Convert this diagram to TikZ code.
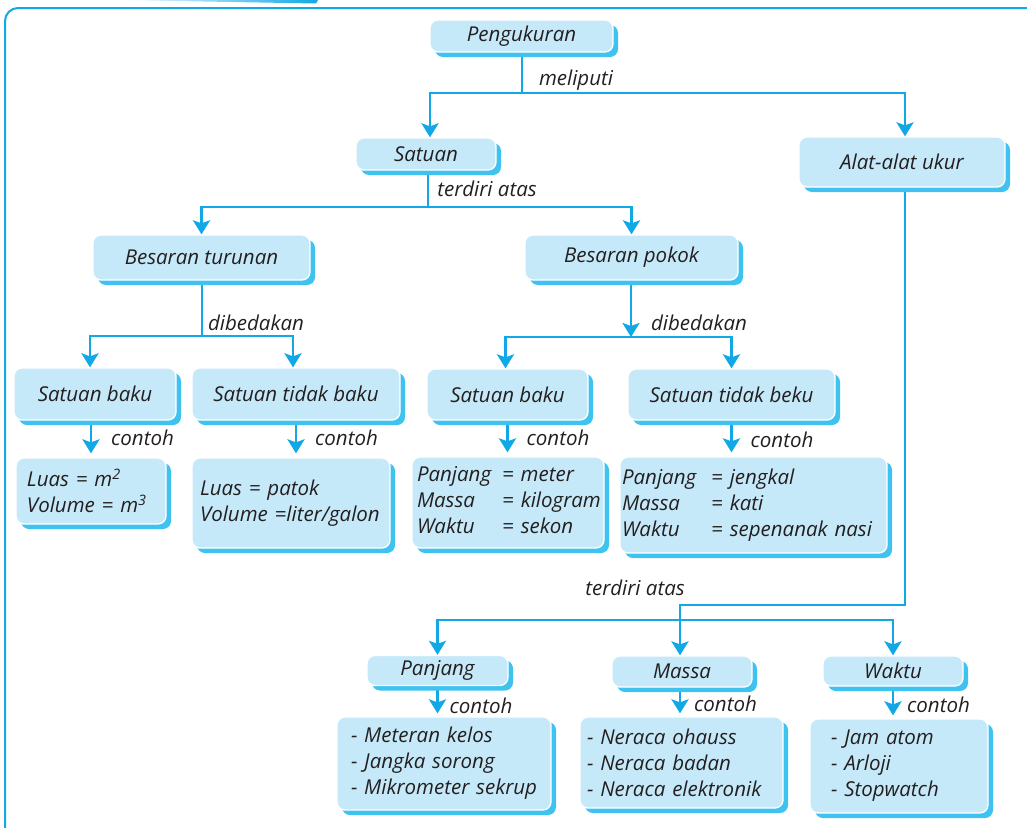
\documentclass[tikz,border=0pt]{standalone}
\usepackage{fontspec}
\setmainfont{Open Sans}
\usetikzlibrary{arrows.meta,shadows}
\definecolor{boxfill}{HTML}{C6E9F9}
\definecolor{shadowblue}{HTML}{3EC3F1}
\definecolor{linecol}{HTML}{12A8E6}
\definecolor{txt}{HTML}{231F20}
\pgfdeclarelayer{bg}
\pgfsetlayers{bg,main}
\begin{document}
\begin{tikzpicture}[x=1pt,y=-1pt,
  font=\fontsize{20.5}{26}\selectfont\itshape, text=txt,
  box/.style={fill=boxfill, draw=white, line width=1.3pt, rounded corners=8pt,
    inner sep=0pt, align=center,
    general shadow={fill=shadowblue, shadow xshift=5pt, shadow yshift=-5pt}},
  lbox/.style={box, align=left},
  conn/.style={draw=linecol, line width=2.8pt},
  arr/.style={conn, -{Stealth[length=14pt,width=17pt,inset=3pt]}},
  lbl/.style={inner sep=0pt}]
\useasboundingbox (0,0) rectangle (1027,827);
% frame
\draw[linecol, line width=2pt, rounded corners=13pt] (5,840) -- (5,8) -- (1040,8);
\shade[left color=white, right color=linecol] (118,0) -- (318,0) -- (316,3.5) -- cycle;

% top levels
\node[box, minimum width=183pt, minimum height=32pt] (peng) at (521.5,36) {Pengukuran};
\node[box, minimum width=140pt, minimum height=32pt] (sat) at (426,154) {Satuan};
\node[box, minimum width=206pt, minimum height=50pt] (alat) at (902,162) {Alat-alat ukur};
\node[box, minimum width=217pt, minimum height=45pt] (btur) at (201.5,257.5) {Besaran turunan};
\node[box, minimum width=213pt, minimum height=45pt] (bpok) at (631.5,257.5) {Besaran pokok};
\node[box, minimum width=162pt, minimum height=52pt] (sb1) at (95,394) {Satuan baku};
\node[box, minimum width=208pt, minimum height=52pt] (stb1) at (296,394) {Satuan tidak baku};
\node[box, minimum width=161pt, minimum height=51pt] (sb2) at (507.5,394.5) {Satuan baku};
\node[box, minimum width=207pt, minimum height=51pt] (stb2) at (731.5,394.5) {Satuan tidak beku};

% examples
\node[lbox, inner xsep=11pt, text width=128pt, minimum height=66pt] (ex1) at (91,491)
  {Luas = m\textsuperscript{2}\\Volume = m\textsuperscript{3}};
\node[lbox, inner xsep=8pt, text width=182pt, minimum height=90pt] (ex2) at (291,503)
  {Luas = patok\\Volume =liter/galon};
\node[lbox, inner xsep=5pt, text width=182pt, minimum height=91pt] (ex3) at (508,502.5)
  {\begin{tabular}{@{}l@{\hspace{11pt}}l@{}}Panjang & = meter\\Massa & = kilogram\\Waktu & = sekon\end{tabular}};
\node[lbox, inner xsep=2pt, text width=263pt, minimum height=96pt] (ex4) at (753.5,505)
  {\begin{tabular}{@{}l@{\hspace{15pt}}l@{}}Panjang & = jengkal\\Massa & = kati\\Waktu & = sepenanak nasi\end{tabular}};

% instruments
\node[box, minimum width=141pt, minimum height=30pt] (pj) at (437.5,670.5) {Panjang};
\node[box, minimum width=140pt, minimum height=31pt] (ms) at (682,671.5) {Massa};
\node[box, minimum width=140pt, minimum height=30pt] (wk) at (893,671) {Waktu};
\node[lbox, inner xsep=7pt, text width=200pt, minimum height=93pt] (pjl) at (444,763.5)
  {\hspace*{7pt}\mbox{- Meteran kelos}\\\hspace*{7pt}\mbox{- Jangka sorong}\\\hspace*{7pt}\mbox{- Mikrometer sekrup}};
\node[lbox, inner xsep=7pt, text width=189pt, minimum height=91pt] (msl) at (681.5,762.5)
  {\mbox{- Neraca ohauss}\\\mbox{- Neraca badan}\\\mbox{- Neraca elektronik}};
\node[lbox, inner xsep=21pt, text width=136pt, minimum height=94pt] (wkl) at (899,766)
  {- Jam atom\\- Arloji\\- Stopwatch};

% labels
\node[lbl] (lmel) at (576,80) {meliputi};
\node[lbl] (lter1) at (487,189) {terdiri atas};
\node[lbl] (ldib1) at (256,323) {dibedakan};
\node[lbl] (ldib2) at (699,323) {dibedakan};
\node[lbl] (lc1) at (142.5,438) {contoh};
\node[lbl] (lc2) at (346.5,438) {contoh};
\node[lbl] (lc3) at (558,438) {contoh};
\node[lbl] (lc4) at (782,440) {contoh};
\node[lbl] (lter2) at (635,588) {terdiri atas};
\node[lbl] (lc5) at (481,706) {contoh};
\node[lbl] (lc6) at (725.5,704) {contoh};
\node[lbl] (lc7) at (938.5,705) {contoh};

% connectors
\begin{pgfonlayer}{bg}
\coordinate (j1) at (522,93);
\draw[conn] (peng.south -| j1) -- (j1);
\draw[arr] (j1) -| ([xshift=4pt]sat.north);
\draw[arr] (j1) -| ([xshift=3pt]alat.north);
\coordinate (j2) at (428,207);
\draw[conn] (sat.south -| j2) -- (j2);
\draw[arr] (j2) -| (btur.north);
\draw[arr] (j2) -| (bpok.north);
\coordinate (j3) at (202,336);
\draw[conn] (btur.south -| j3) -- (j3);
\draw[arr] (j3) -| ([xshift=-5pt]sb1.north);
\draw[arr] (j3) -| ([xshift=-3pt]stb1.north);
\coordinate (j4) at (631,337);
\draw[arr] (bpok.south -| j4) -- (j4);
\draw[arr] (j4) -| ([xshift=-2pt]sb2.north);
\draw[arr] (j4) -| (stb2.north);
\draw[arr, shorten >=4pt] (ex1.north |- sb1.south) -- (ex1.north);
\draw[arr, shorten >=4pt] (stb1.south) -- (stb1.south |- ex2.north);
\draw[arr, shorten >=4pt] (sb2.south) -- (sb2.south |- ex3.north);
\draw[arr, shorten >=4pt] (stb2.south) -- (stb2.south |- ex4.north);
\coordinate (j5) at (905,605);
\coordinate (j6) at (680,620);
\draw[conn] (alat.south -| j5) -- (j5) -- (j5 -| j6) -- (j6);
\draw[arr] (j6) -| (pj.north);
\draw[arr] (j6) -| (wk.north);
\draw[arr] (j6) -- (j6 |- ms.north);
\draw[arr, shorten >=3pt] (pj.south) -- (pj.south |- pjl.north);
\draw[arr, shorten >=3pt] (ms.south -| j6) -- (j6 |- msl.north);
\draw[arr, shorten >=3pt] (wk.south) -- (wk.south |- wkl.north);
\end{pgfonlayer}
\end{tikzpicture}
\end{document}
